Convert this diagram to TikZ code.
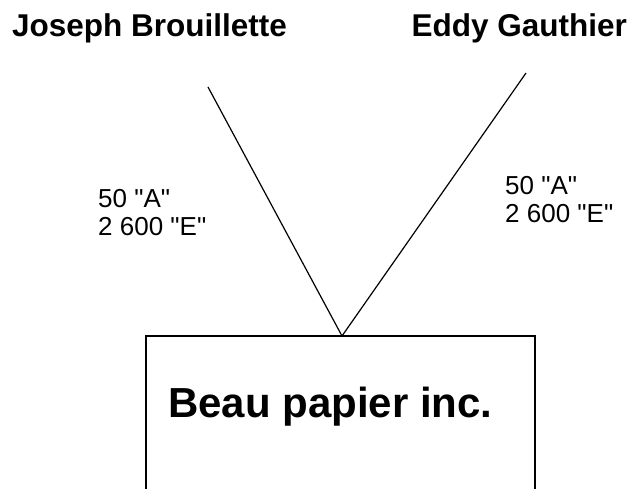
\documentclass[tikz,border=0pt]{standalone}
\usepackage{fontspec}
\setmainfont{Liberation Sans}[Ligatures=TeXOff]
\usetikzlibrary{calc}
\tikzset{
	person/.style={inner sep=0pt, font=\fontsize{31.5}{36}\selectfont\bfseries},
	amount/.style={inner sep=0pt, align=left, font=\fontsize{26}{28}\selectfont},
	firm/.style={inner sep=0pt, font=\fontsize{42}{48}\selectfont\bfseries},
	link/.style={line width=1.2pt},
	frame/.style={line width=1.8pt}
}

\begin{document}
\begin{tikzpicture}[x=1pt, y=1pt]
		%%%%% START %%%%%
		\useasboundingbox (0, 0) rectangle (631, 489);
		
		\node[person, anchor=base west] (joseph) at (12, 452) {Joseph Brouillette};
		\node[person, anchor=base east] (eddy) at (627, 452) {Eddy Gauthier};
		
		\coordinate (jfoot) at (208, 402);
		\coordinate (efoot) at (526, 416);
		\coordinate (apex) at (342, 153);
		
		\draw[link] (jfoot) -- (apex);
		\draw[link] (efoot) -- (apex);
		
		\node[amount, anchor=base west] (jshares) at (98, 253) {50 "A"\\2 600 "E"};
		\node[amount, anchor=base west] (eshares) at (505, 266) {50 "A"\\2 600 "E"};
		
		\draw[frame] (146, -5) -- (146, 153) -- (535, 153) -- (535, -5);
		\node[firm, anchor=base west] (beau) at (168, 71) {Beau papier inc.};
		
		%%%%% END %%%%%
\end{tikzpicture}
\end{document}
